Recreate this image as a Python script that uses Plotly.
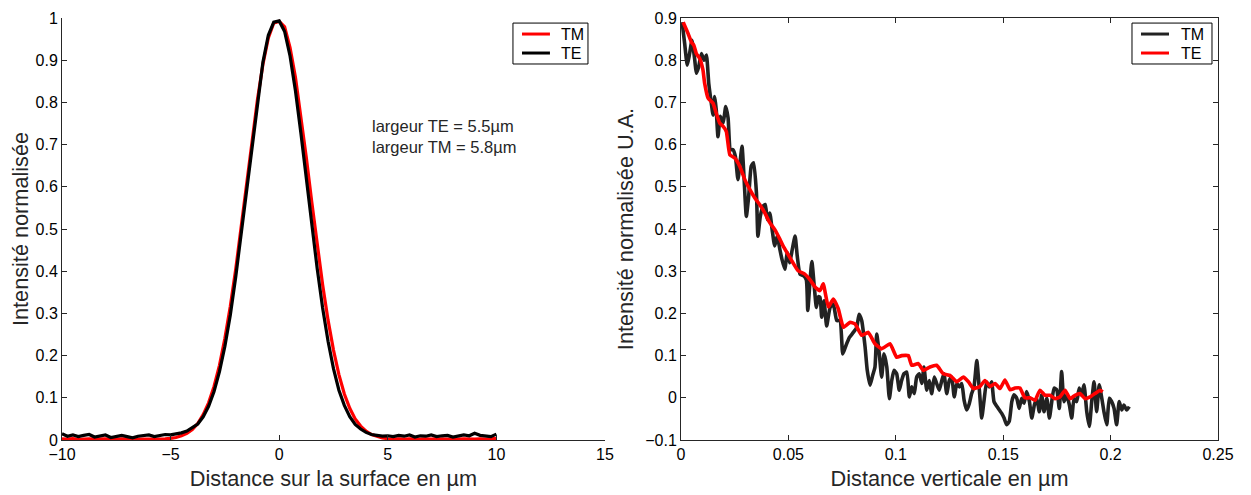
import plotly.graph_objects as go

# ---------------- Left panel: lateral profile ----------------
pos_surface = [
    -10.0, -9.75, -9.5, -9.25, -9.0, -8.75, -8.5, -8.25, -8.0, -7.75,
    -7.5, -7.25, -7.0, -6.75, -6.5, -6.25, -6.0, -5.75, -5.5, -5.25,
    -5.0, -4.75, -4.5, -4.25, -4.0, -3.75, -3.5, -3.25, -3.0, -2.75,
    -2.5, -2.25, -2.0, -1.75, -1.5, -1.25, -1.0, -0.75, -0.5, -0.25,
    0.0, 0.25, 0.5, 0.75, 1.0, 1.25, 1.5, 1.75, 2.0, 2.25,
    2.5, 2.75, 3.0, 3.25, 3.5, 3.75, 4.0, 4.25, 4.5, 4.75,
    5.0, 5.25, 5.5, 5.75, 6.0, 6.25, 6.5, 6.75, 7.0, 7.25,
    7.5, 7.75, 8.0, 8.25, 8.5, 8.75, 9.0, 9.25, 9.5, 9.75, 10.0,
]
tm_surface = [
    0.003, 0.002, 0.003, 0.001, 0.002, 0.003, 0.002, 0.002, 0.003, 0.001,
    0.002, 0.003, 0.002, 0.002, 0.003, 0.002, 0.003, 0.002, 0.003, 0.003,
    0.004, 0.006, 0.010, 0.016, 0.025, 0.039, 0.060, 0.088, 0.127, 0.177,
    0.241, 0.317, 0.405, 0.503, 0.606, 0.710, 0.807, 0.890, 0.953, 0.988,
    0.992, 0.979, 0.930, 0.859, 0.769, 0.669, 0.564, 0.462, 0.368, 0.284,
    0.213, 0.155, 0.109, 0.075, 0.050, 0.033, 0.021, 0.013, 0.008, 0.005,
    0.003, 0.002, 0.003, 0.002, 0.003, 0.002, 0.002, 0.003, 0.002, 0.003,
    0.002, 0.002, 0.003, 0.002, 0.003, 0.002, 0.002, 0.003, 0.002, 0.003, 0.004,
]
te_surface = [
    0.015, 0.009, 0.012, 0.008, 0.011, 0.013, 0.007, 0.010, 0.012, 0.006,
    0.009, 0.011, 0.008, 0.005, 0.009, 0.010, 0.012, 0.008, 0.011, 0.013,
    0.012, 0.014, 0.017, 0.021, 0.030, 0.038, 0.055, 0.080, 0.115, 0.162,
    0.222, 0.296, 0.387, 0.489, 0.597, 0.706, 0.808, 0.895, 0.959, 0.990,
    0.993, 0.968, 0.910, 0.827, 0.727, 0.619, 0.510, 0.406, 0.313, 0.234,
    0.169, 0.118, 0.082, 0.055, 0.037, 0.026, 0.018, 0.013, 0.011, 0.009,
    0.010, 0.008, 0.011, 0.009, 0.012, 0.007, 0.010, 0.009, 0.012, 0.008,
    0.010, 0.011, 0.007, 0.009, 0.012, 0.010, 0.016, 0.011, 0.009, 0.008, 0.014,
]

# ---------------- Right panel: vertical profile ----------------
pos_vert_tm = [
    0.0005, 0.0017, 0.0029, 0.0040, 0.0051, 0.0064, 0.0071, 0.0082, 0.0095, 0.0107,
    0.0118, 0.0129, 0.0141, 0.0149, 0.0157, 0.0164, 0.0172, 0.0183, 0.0196, 0.0208,
    0.0219, 0.0230, 0.0242, 0.0253, 0.0265, 0.0276, 0.0284, 0.0293, 0.0304, 0.0315,
    0.0327, 0.0338, 0.0351, 0.0358, 0.0369, 0.0382, 0.0392, 0.0402, 0.0413, 0.0424,
    0.0436, 0.0448, 0.0460, 0.0470, 0.0483, 0.0495, 0.0506, 0.0518, 0.0531, 0.0541,
    0.0554, 0.0568, 0.0583, 0.0590, 0.0601, 0.0609, 0.0622, 0.0630, 0.0640, 0.0647,
    0.0655, 0.0666, 0.0678, 0.0694, 0.0709, 0.0725, 0.0740, 0.0753, 0.0768, 0.0784,
    0.0802, 0.0818, 0.0829, 0.0841, 0.0857, 0.0867, 0.0880, 0.0892, 0.0903, 0.0911,
    0.0923, 0.0934, 0.0945, 0.0958, 0.0970, 0.0981, 0.0992, 0.1004, 0.1016, 0.1027,
    0.1038, 0.1051, 0.1063, 0.1074, 0.1086, 0.1097, 0.1109, 0.1121, 0.1131, 0.1144,
    0.1156, 0.1167, 0.1179, 0.1190, 0.1202, 0.1214, 0.1224, 0.1237, 0.1249, 0.1260,
    0.1272, 0.1284, 0.1296, 0.1307, 0.1318, 0.1330, 0.1342, 0.1353, 0.1364, 0.1377,
    0.1389, 0.1400, 0.1411, 0.1423, 0.1435, 0.1446, 0.1457, 0.1470, 0.1482, 0.1493,
    0.1504, 0.1516, 0.1528, 0.1540, 0.1550, 0.1563, 0.1574, 0.1586, 0.1597, 0.1609,
    0.1622, 0.1633, 0.1645, 0.1656, 0.1668, 0.1679, 0.1690, 0.1703, 0.1715, 0.1726,
    0.1737, 0.1749, 0.1761, 0.1772, 0.1783, 0.1796, 0.1808, 0.1819, 0.1830, 0.1842,
    0.1854, 0.1865, 0.1876, 0.1889, 0.1901, 0.1912, 0.1923, 0.1935, 0.1947, 0.1959,
    0.1969, 0.1982, 0.1994, 0.2005, 0.2016, 0.2028, 0.2040, 0.2052, 0.2062, 0.2075,
    0.2087,
]
tm_vert = [
    0.890, 0.839, 0.788, 0.816, 0.847, 0.800, 0.769, 0.784, 0.816, 0.800,
    0.812, 0.745, 0.698, 0.670, 0.714, 0.682, 0.619, 0.667, 0.651, 0.690,
    0.663, 0.588, 0.588, 0.572, 0.517, 0.564, 0.596, 0.525, 0.430, 0.478,
    0.549, 0.557, 0.486, 0.383, 0.430, 0.454, 0.458, 0.422, 0.438, 0.399,
    0.360, 0.383, 0.352, 0.328, 0.305, 0.344, 0.320, 0.352, 0.383, 0.336,
    0.293, 0.290, 0.280, 0.207, 0.280, 0.323, 0.254, 0.214, 0.240, 0.238,
    0.191, 0.230, 0.170, 0.214, 0.222, 0.183, 0.183, 0.104, 0.124, 0.143,
    0.155, 0.167, 0.198, 0.183, 0.120, 0.065, 0.030, 0.053, 0.073, 0.151,
    0.104, 0.049, 0.104, 0.073, -0.002, 0.041, 0.065, 0.057, 0.018, 0.041,
    0.057, 0.061, 0.002, 0.026, 0.010, 0.049, 0.057, 0.034, 0.073, 0.018,
    0.041, 0.010, 0.049, 0.034, 0.018, 0.041, 0.057, 0.010, 0.041, 0.049,
    0.002, 0.034, 0.026, 0.034, -0.006, -0.029, -0.014, 0.010, 0.026, 0.088,
    0.018, -0.048, -0.005, 0.038, 0.026, 0.038, -0.009, -0.020, -0.029, -0.037,
    -0.048, -0.064, -0.056, -0.009, 0.007, -0.001, -0.025, -0.001, -0.013, 0.015,
    -0.009, -0.048, -0.017, -0.001, -0.033, 0.007, -0.033, -0.001, -0.048, -0.009,
    0.023, 0.019, -0.025, 0.062, -0.009, 0.007, -0.017, -0.048, -0.001, -0.009,
    0.023, 0.007, 0.031, -0.033, -0.068, -0.009, 0.038, -0.033, 0.031, -0.001,
    -0.033, -0.064, -0.001, -0.009, -0.025, -0.064, -0.009, -0.029, -0.017, -0.029,
    -0.021,
]
pos_vert_te = [
    0.0010, 0.0033, 0.0048, 0.0060, 0.0071, 0.0087, 0.0102, 0.0110, 0.0126, 0.0149,
    0.0164, 0.0180, 0.0196, 0.0211, 0.0227, 0.0250, 0.0273, 0.0297, 0.0320, 0.0343,
    0.0366, 0.0390, 0.0413, 0.0436, 0.0460, 0.0475, 0.0498, 0.0521, 0.0545, 0.0576,
    0.0600, 0.0625, 0.0647, 0.0662, 0.0686, 0.0709, 0.0732, 0.0756, 0.0787, 0.0810,
    0.0841, 0.0872, 0.0903, 0.0934, 0.0973, 0.1004, 0.1027, 0.1058, 0.1074, 0.1105,
    0.1128, 0.1159, 0.1190, 0.1221, 0.1252, 0.1284, 0.1314, 0.1338, 0.1361, 0.1392,
    0.1415, 0.1439, 0.1462, 0.1485, 0.1508, 0.1532, 0.1555, 0.1578, 0.1601, 0.1625,
    0.1648, 0.1671, 0.1695, 0.1718, 0.1741, 0.1764, 0.1788, 0.1811, 0.1834, 0.1858,
    0.1881, 0.1904, 0.1927, 0.1951, 0.1963,
]
te_vert = [
    0.890, 0.863, 0.843, 0.835, 0.816, 0.804, 0.777, 0.745, 0.710, 0.698,
    0.674, 0.651, 0.643, 0.631, 0.576, 0.568, 0.549, 0.517, 0.494, 0.474,
    0.458, 0.438, 0.415, 0.399, 0.376, 0.360, 0.340, 0.320, 0.301, 0.293,
    0.280, 0.262, 0.254, 0.270, 0.215, 0.234, 0.211, 0.167, 0.179, 0.175,
    0.148, 0.155, 0.128, 0.116, 0.128, 0.096, 0.100, 0.100, 0.077, 0.081,
    0.065, 0.073, 0.077, 0.057, 0.053, 0.038, 0.049, 0.038, 0.022, 0.027,
    0.041, 0.027, 0.034, 0.022, 0.042, 0.019, 0.023, 0.023, 0.000, 0.000,
    -0.006, 0.018, 0.006, 0.006, -0.002, 0.002, 0.018, -0.002, 0.006, 0.010,
    -0.002, 0.002, 0.010, 0.018, 0.014,
]

left_ticks_x = [-10, -5, 0, 5, 10, 15]
left_ticks_y = [0, 0.1, 0.2, 0.3, 0.4, 0.5, 0.6, 0.7, 0.8, 0.9, 1]
right_ticks_x = [0, 0.05, 0.1, 0.15, 0.2, 0.25]
right_ticks_y = [-0.1, 0, 0.1, 0.2, 0.3, 0.4, 0.5, 0.6, 0.7, 0.8, 0.9]
left_legend = [("TM", "#ff0000"), ("TE", "#000000")]
right_legend = [("TM", "#222222"), ("TE", "#ff0000")]

FONT = "Liberation Sans, Arial, Helvetica, sans-serif"
RED = "#ff0000"
BLACK = "#000000"
DARK = "#222222"

fig = go.Figure()

fig.add_trace(go.Scatter(x=pos_surface, y=tm_surface, mode="lines", name="TM",
                         line=dict(color=RED, width=3.2), xaxis="x", yaxis="y"))
fig.add_trace(go.Scatter(x=pos_surface, y=te_surface, mode="lines", name="TE",
                         line=dict(color=BLACK, width=3.2), xaxis="x", yaxis="y"))
fig.add_trace(go.Scatter(x=pos_vert_tm, y=tm_vert, mode="lines", name="TM",
                         line=dict(color=DARK, width=3.6, shape="spline", smoothing=0.5),
                         xaxis="x2", yaxis="y2"))
fig.add_trace(go.Scatter(x=pos_vert_te, y=te_vert, mode="lines", name="TE",
                         line=dict(color=RED, width=3.6, shape="spline", smoothing=0.4),
                         xaxis="x2", yaxis="y2"))

axis_common = dict(showgrid=False, zeroline=False, showline=True, linecolor="#262626",
                   linewidth=1, ticks="inside", ticklen=5, tickcolor="#262626",
                   automargin=False,
                   tickfont=dict(family=FONT, size=16, color="#000000"))
TITLE_FONT = dict(family=FONT, size=21.7, color="#262626")

# Legend boxes drawn in paper coordinates (MATLAB-style boxed legends)
shapes = []
annotations = []


def add_legend(x0, x1, line_x0, line_x1, text_x, entries):
    y_top, y_bot = 0.988, 0.891
    shapes.append(dict(type="rect", xref="paper", yref="paper", x0=x0, x1=x1,
                       y0=y_bot, y1=y_top, line=dict(color="#000000", width=1),
                       fillcolor="white", layer="above"))
    for (label, color), yy in zip(entries, [0.962, 0.917]):
        shapes.append(dict(type="line", xref="paper", yref="paper", x0=line_x0, x1=line_x1,
                           y0=yy, y1=yy, line=dict(color=color, width=3), layer="above"))
        annotations.append(dict(x=text_x, y=yy, xref="paper", yref="paper",
                                xanchor="left", yanchor="middle", showarrow=False,
                                text=label, font=dict(family=FONT, size=16, color="#000000")))


add_legend(0.3901, 0.4550, 0.3979, 0.4221, 0.4299, left_legend)
add_legend(0.9256, 0.9948, 0.9334, 0.9576, 0.9663, right_legend)

annotations.append(dict(x=4.2, y=0.72, xref="x", yref="y", xanchor="left", yanchor="middle",
                        align="left", showarrow=False,
                        text="largeur TE = 5.5µm<br>largeur TM = 5.8µm",
                        font=dict(family=FONT, size=16.5, color="#262626")))

# page body has an 8px margin, so the figure sits at (8, 8) in the window
fig.update_layout(
    width=1251, height=495,
    margin=dict(l=54, r=41, t=10, b=63),
    paper_bgcolor="white", plot_bgcolor="white",
    showlegend=False,
    font=dict(family=FONT, color="#262626"),
    xaxis=dict(domain=[0, 0.4697], range=[-10, 15], tickvals=left_ticks_x,
               anchor="y",
               title=dict(text="Distance sur la surface en µm", font=TITLE_FONT, standoff=8),
               **axis_common),
    yaxis=dict(domain=[0, 1], range=[0, 1], tickvals=left_ticks_y, anchor="x",
               title=dict(text="Intensité normalisée", font=TITLE_FONT, standoff=5),
               **axis_common),
    xaxis2=dict(domain=[0.5355, 1], range=[0, 0.25], tickvals=right_ticks_x, anchor="y2",
                mirror="ticks",
                title=dict(text="Distance verticale en µm", font=TITLE_FONT, standoff=8),
                **axis_common),
    yaxis2=dict(domain=[0, 1], range=[-0.1, 0.9], tickvals=right_ticks_y, anchor="x2",
                mirror="ticks",
                title=dict(text="Intensité normalisée U.A.", font=TITLE_FONT, standoff=5),
                **axis_common),
    shapes=shapes,
    annotations=annotations,
)

fig.write_html("out.html")
